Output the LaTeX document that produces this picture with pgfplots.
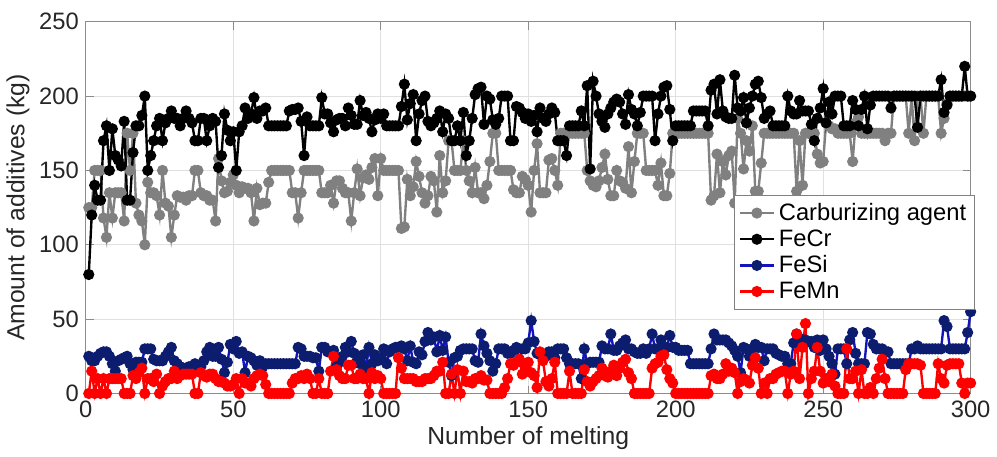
\documentclass[border=0pt]{standalone}
\usepackage{pgfplots}
\pgfplotsset{compat=1.18}
\usepackage{pgfplotstable}
\usepackage{fontspec}
\setmainfont{Liberation Sans}
\definecolor{cgray}{RGB}{128,128,128}
\definecolor{cnavy}{RGB}{12,28,110}
\definecolor{cblue}{RGB}{20,20,190}
\definecolor{cred}{RGB}{255,0,0}
\pgfplotstableread{
c r s m
125 80 25 0
125 120 22 15
150 140 22 0
150 130 25 10
150 130 27 0
118 170 28 10
105 180 28 0
135 150 25 10
118 178 20 10
135 160 15 10
135 157 22 10
135 153 23 10
116 183 24 0
175 130 25 0
150 130 20 0
175 162 16 12
128 180 21 10
120 180 21 14
116 187 21 17
100 200 30 0
142 150 30 10
135 160 30 10
135 170 23 8
133 180 22 13
120 185 22 0
150 170 22 5
128 182 25 8
126 185 28 10
105 190 31 10
120 185 22 15
133 185 20 10
132 180 18 12
132 185 17 13
130 190 16 13
133 185 18 13
133 182 18 13
150 170 20 0
150 170 18 0
135 185 18 14
133 185 22 12
133 170 28 11
130 180 31 13
130 185 25 13
116 183 25 10
158 152 31 8
143 160 23 8
135 188 14 7
136 177 21 5
142 170 33 5
147 176 30 6
140 150 35 10
135 176 27 0
139 180 28 10
138 192 14 7
138 185 25 7
135 188 24 5
116 199 22 10
138 185 19 12
127 190 22 13
128 190 18 12
128 192 20 6
142 180 20 0
150 180 20 0
150 180 20 0
150 180 20 0
150 180 20 0
150 180 20 0
150 180 20 0
150 190 20 0
135 191 20 7
135 191 20 10
118 192 31 10
135 183 30 12
150 160 25 10
150 186 25 13
150 180 25 10
150 180 24 0
150 180 24 0
150 180 15 10
135 199 31 0
135 188 31 0
135 188 28 0
140 182 28 15
128 176 29 25
143 184 18 16
143 185 21 12
138 185 25 10
135 180 31 10
135 192 28 19
116 187 35 19
135 181 27 10
151 181 22 10
133 197 20 13
145 187 26 10
147 189 17 10
144 185 31 0
152 176 20 14
158 184 26 10
133 188 22 12
158 185 24 10
150 188 30 0
150 180 20 0
150 180 28 0
150 180 30 0
150 180 31 0
150 180 31 24
111 193 32 17
112 208 30 10
144 184 22 10
133 195 32 10
139 201 21 10
156 170 20 8
146 188 28 8
135 197 26 8
128 200 35 10
133 183 41 10
146 180 36 10
143 182 38 12
122 185 28 15
160 190 39 15
135 176 29 21
143 188 38 0
170 185 21 0
170 170 12 13
150 170 24 0
150 180 25 16
150 170 29 0
170 189 30 15
150 160 30 8
143 170 30 8
135 185 30 7
152 201 22 10
135 205 21 10
135 206 40 12
131 181 32 9
140 200 27 9
156 198 22 0
175 184 15 0
175 181 20 0
150 185 30 0
150 200 30 0
150 200 30 4
150 200 27 10
150 170 27 20
137 170 29 19
135 193 31 21
135 192 22 23
146 189 30 13
144 185 30 18
140 188 34 21
122 183 49 14
150 187 35 12
168 176 27 4
135 192 26 28
135 185 26 22
135 183 25 8
157 188 28 5
158 192 28 10
150 189 24 21
140 170 30 0
175 170 30 0
175 170 30 0
175 160 24 0
175 180 20 15
175 180 20 0
175 180 20 0
175 180 20 0
175 190 10 0
175 180 30 16
150 207 20 8
143 151 21 5
140 210 21 8
139 200 21 10
143 188 21 12
152 183 32 17
161 179 30 12
144 188 30 11
133 192 40 15
133 196 29 19
150 198 29 12
143 196 32 17
142 188 34 21
138 181 36 23
166 201 30 14
135 191 30 10
156 188 28 0
175 180 27 0
175 189 27 0
175 200 30 0
150 200 27 0
150 200 30 0
150 200 40 17
150 170 30 20
140 188 30 21
155 200 36 25
133 206 29 26
133 207 31 16
148 191 39 10
175 170 31 7
175 180 31 0
175 180 29 0
175 180 29 0
175 180 29 0
175 180 29 0
175 180 20 0
175 190 20 0
175 190 20 0
175 190 20 0
175 190 20 0
175 190 20 0
175 180 20 0
130 204 30 12
133 208 40 13
161 188 36 10
135 211 36 10
156 190 36 13
147 186 36 20
160 185 34 15
163 185 32 17
128 214 29 14
185 192 25 0
175 190 14 8
151 199 31 10
170 182 30 9
163 192 25 7
180 200 30 19
136 208 33 24
136 210 31 17
155 199 31 0
175 185 22 7
175 188 30 0
175 190 30 10
175 180 30 10
175 180 27 13
175 180 26 14
175 180 25 15
175 180 25 15
175 200 20 0
175 190 20 13
175 188 34 15
136 188 40 40
170 197 37 10
140 190 36 31
175 190 36 47
175 190 35 0
175 181 35 10
175 170 31 15
161 185 36 31
155 192 29 15
156 205 36 7
182 182 30 10
180 196 25 8
178 188 20 13
178 200 13 5
175 200 30 0
175 200 30 0
175 180 30 0
175 180 20 30
175 180 36 10
156 197 41 10
182 191 27 15
186 180 20 0
175 191 20 16
175 200 20 0
175 178 41 0
175 194 40 4
175 200 33 0
175 200 30 10
175 200 30 17
175 200 30 23
170 200 28 10
175 200 28 0
175 192 20 0
200 200 20 0
200 200 20 0
200 200 20 0
200 200 20 0
200 200 20 16
175 200 20 20
200 200 30 20
170 200 30 20
200 179 32 20
200 200 30 19
175 200 30 0
200 200 30 0
200 200 30 0
200 200 30 0
200 200 30 0
200 200 30 20
175 211 30 10
185 189 49 7
195 194 45 19
200 200 30 20
200 200 30 20
200 200 30 20
200 200 30 20
200 200 30 7
200 220 30 0
200 200 41 7
200 200 55 7
}\datatable
\begin{document}
\begin{tikzpicture}
\begin{axis}[
  scale only axis,
  width=447.5pt, height=188pt,
  xmin=0, xmax=300, ymin=0, ymax=250,
  xtick={0,50,...,300}, ytick={0,50,...,250},
  enlargelimits=false,
  clip=false,
  grid=major,
  major grid style={line width=0.4pt, draw=black!12},
  axis line style={draw=black!45, line width=0.6pt},
  tick style={draw=black!45, line width=0.6pt},
  tick align=inside,
  major tick length=4pt,
  /pgf/number format/assume math mode=true,
  ticklabel style={font=\fontsize{12}{14}\selectfont, text=black!85},
  label style={font=\fontsize{12.5}{15}\selectfont, text=black!85},
  xlabel={Number of melting},
  ylabel={Amount of additives (kg)},
  xlabel style={yshift=2pt},
  ylabel style={yshift=-2pt},
  legend cell align=left,
  legend style={at={(1,0.535)}, anchor=north east, xshift=2pt, draw=black!50, line width=0.5pt, fill=white,
    font=\fontsize{12}{14}\selectfont, inner sep=2pt, row sep=-0.8pt},
  every axis plot/.append style={line width=1.2pt, mark=*, mark size=2.2pt},
]
\addplot[color=cgray, mark options={fill=cgray, draw=cgray}] table[x expr=\coordindex+1, y=c] {\datatable};
\addlegendentry{Carburizing agent}
\addplot[color=black, mark options={fill=black, draw=black}] table[x expr=\coordindex+1, y=r] {\datatable};
\addlegendentry{FeCr}
\addplot[color=cblue, mark options={fill=cnavy, draw=cnavy}] table[x expr=\coordindex+1, y=s] {\datatable};
\addlegendentry{FeSi}
\addplot[color=cred, mark options={fill=cred, draw=cred}] table[x expr=\coordindex+1, y=m] {\datatable};
\addlegendentry{FeMn}
\end{axis}
\node[inner sep=0pt, minimum size=0pt] at ([yshift=11pt]current axis.north) {};
\end{tikzpicture}
\end{document}
